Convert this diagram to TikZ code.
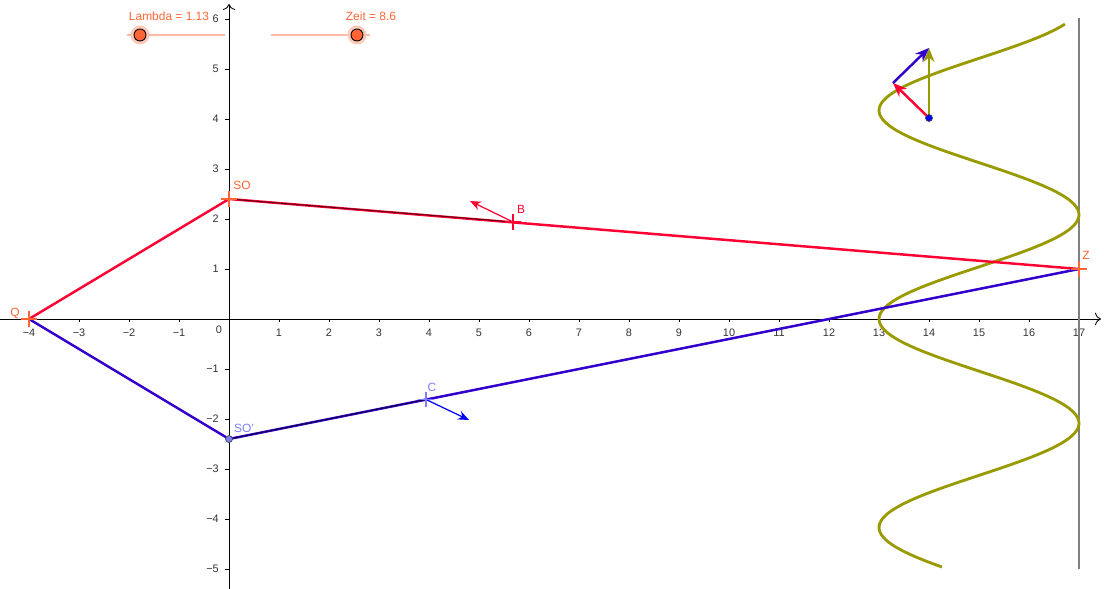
\documentclass[tikz,border=0pt]{standalone}
\usepackage{fontspec}
\setmainfont{Liberation Sans}
\usetikzlibrary{arrows.meta,shapes.misc}
\definecolor{ggred}{RGB}{255,0,51}
\definecolor{ggblue}{RGB}{51,0,204}
\definecolor{ggolive}{RGB}{153,153,0}
\definecolor{ggorange}{RGB}{255,102,51}
\definecolor{gglight}{RGB}{125,125,255}

\begin{document}
\begin{tikzpicture}[font=\fontsize{6.8}{8}\selectfont]
        \tikzstyle{tick}=[font=\fontsize{6.2}{7}\selectfont, text=black!80]
        \tikzstyle{plus}=[cross out, draw, rotate=45, minimum size=0.19cm, inner sep=0pt, line width=1.1pt]
        \tikzstyle{seg}=[line width=1.4pt]
        \tikzstyle{vec}=[line width=1.4pt, -{Stealth[length=2.8mm, width=2.2mm]}]
        \tikzstyle{thinvec}=[line width=0.7pt, -{Stealth[length=2.2mm, width=1.8mm]}]
        \tikzstyle{slider}=[circle, draw=black, fill=ggorange, line width=0.5pt, minimum size=0.24cm, inner sep=0pt]
        \useasboundingbox (-4.58,-5.4) rectangle (17.5,6.38);
        \draw[line width=0.5pt, -{To[length=1.2mm]}] (-4.58,0) -- (17.44,0);
        \draw[line width=0.5pt, -{To[length=1.2mm]}] (0,-5.4) -- (0,6.3);
        \foreach \x in {1,...,4} \draw (-\x,0) -- (-\x,-0.07) node[tick,below] {−\x};
        \foreach \x in {1,...,17} \draw (\x,0) -- (\x,-0.07) node[tick,below] {\x};
        \foreach \y in {1,...,6} \draw (0,\y) -- (-0.08,\y) node[tick,left] {\y};
        \foreach \y in {1,...,5} \draw (0,-\y) -- (-0.08,-\y) node[tick,left] {−\y};
        \node[tick] (O) at (-0.2,-0.21) {0};
        \draw[ggorange!45, line width=0.6pt] (-2.04,5.68) -- (-0.08,5.68);
        \draw[ggorange!45, line width=0.6pt] (0.84,5.68) -- (2.82,5.68);
        \fill[ggorange!35] (-1.78,5.68) circle (0.19);
        \fill[ggorange!35] (2.56,5.68) circle (0.19);
        \node[slider] (lam) at (-1.78,5.68) {};
        \node[slider] (zeit) at (2.56,5.68) {};
        \node[text=ggorange] (laml) at (-1.2,6.06) {Lambda = 1.13};
        \node[text=ggorange] (zeitl) at (2.84,6.06) {Zeit = 8.6};
        \draw[gray, line width=1.1pt] (17,-5) -- (17,6.02);
        \draw[ggolive, line width=1.6pt, domain=-4.96:5.9, samples=200, smooth, variable=\y] plot ({15-2*cos(360*\y/4.17)},\y);
        \coordinate (Q) at (-4,0);
        \coordinate (SO) at (0,2.4);
        \coordinate (Z) at (17,1);
        \coordinate (SOs) at (0,-2.4);
        \coordinate (B) at (5.68,1.94);
        \coordinate (C) at (3.94,-1.61);
        \coordinate (Bv) at (4.82,2.36);
        \coordinate (Cv) at (4.8,-2.02);
        \draw[seg, ggred] (Q) -- (SO) -- (Z);
        \draw[seg, ggblue] (Q) -- (SOs) -- (Z);
        \draw[black, line width=0.6pt, opacity=0.6] (SO) -- (B);
        \draw[black, line width=0.6pt, opacity=0.6] (SOs) -- (C);
        \draw[thinvec, ggred] (B) -- (Bv);
        \draw[thinvec, blue] (C) -- (Cv);
        \node[plus, ggorange] (Qm) at (Q) {};
        \node[plus, ggorange] (SOm) at (SO) {};
        \node[plus, ggorange] (Zm) at (Z) {};
        \node[plus, ggred, line width=0.8pt] (Bm) at (B) {};
        \node[plus, gglight, line width=0.8pt] (Cm) at (C) {};
        \node[circle, draw=black!70, fill=gglight, line width=0.4pt, minimum size=0.14cm, inner sep=0pt] (SOsm) at (SOs) {};
        \node[text=ggorange] (Ql) at (-4.28,0.12) {Q};
        \node[text=ggorange] (SOl) at (0.26,2.68) {SO};
        \node[text=ggorange] (Zl) at (17.14,1.28) {Z};
        \node[text=ggred] (Bl) at (5.84,2.2) {B};
        \node[text=gglight] (Cl) at (4.06,-1.36) {C};
        \node[text=gglight] (SOsl) at (0.3,-2.18) {SO'};
        \coordinate (P) at (14,4.02);
        \coordinate (Pr) at (13.28,4.72);
        \coordinate (Pt) at (14,5.42);
        \draw[vec, ggolive] (P) -- (Pt);
        \draw[vec, ggred] (P) -- (Pr);
        \draw[vec, ggblue] (Pr) -- (Pt);
        \node[circle, draw=black!70, fill=blue, line width=0.4pt, minimum size=0.14cm, inner sep=0pt] (Pm) at (P) {};
    \end{tikzpicture}
\end{document}
